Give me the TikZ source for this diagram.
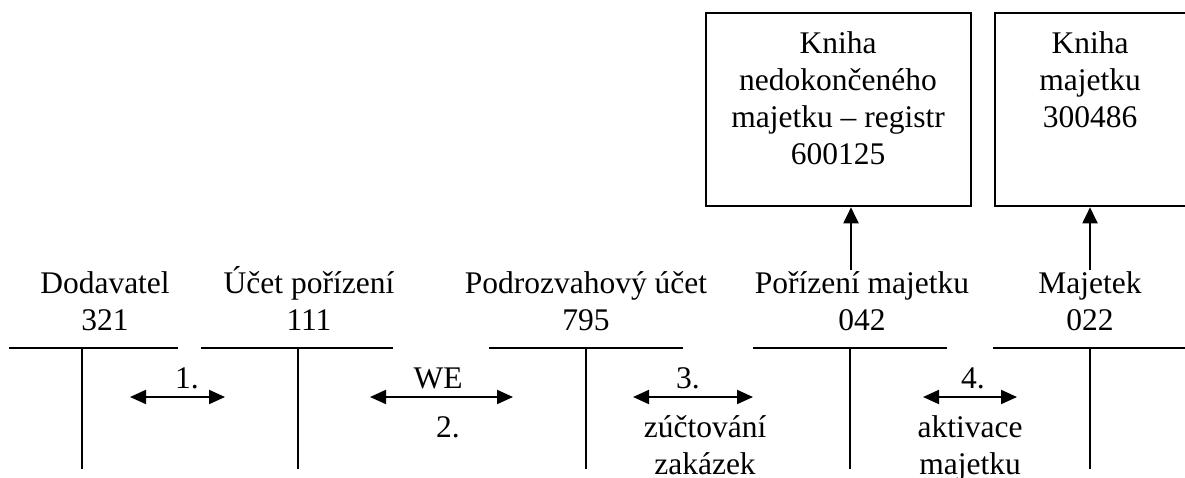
\documentclass[tikz,border=0pt]{standalone}
\usepackage{fontspec}
\setmainfont{Liberation Serif}
\usetikzlibrary{arrows.meta}
\begin{document}
\begin{tikzpicture}[x=1pt,y=-1pt,
  txt/.style={font=\fontsize{31.5}{37}\selectfont, align=center, inner sep=0pt, anchor=base},
  rule/.style={line width=2.3pt},
  link/.style={line width=2pt, -{Triangle[length=16pt,width=15pt]}},
  pair/.style={line width=2pt, {Triangle[length=16pt,width=14pt]}-{Triangle[length=16pt,width=14pt]}},
  book/.style={draw, line width=2.3pt, inner sep=0pt, anchor=north west}]
\useasboundingbox (0,0) rectangle (1185,477);
\clip (0,0) rectangle (1185,477);

% account titles (anchor at the baseline of the last line)
\node[txt] (t1) at (105,330) {Dodavatel\\321};
\node[txt] (t2) at (309,330) {Účet pořízení\\111};
\node[txt] (t3) at (586,330) {Podrozvahový účet\\795};
\node[txt] (t4) at (862,330) {Pořízení majetku\\042};
\node[txt] (t5) at (1090,330) {Majetek\\022};

% T-accounts
\coordinate (h1a) at (9,348);   \coordinate (h1b) at (178,348);
\coordinate (h2a) at (201,348); \coordinate (h2b) at (393,348);
\coordinate (h3a) at (489,348); \coordinate (h3b) at (683,348);
\coordinate (h4a) at (753,348); \coordinate (h4b) at (947,348);
\coordinate (h5a) at (993,348); \coordinate (h5b) at (1186,348);
\draw[rule] (h1a) -- (h1b) (82,348) -- (82,469);
\draw[rule] (h2a) -- (h2b) (298,348) -- (298,469);
\draw[rule] (h3a) -- (h3b) (586,348) -- (586,469);
\draw[rule] (h4a) -- (h4b) (850,348) -- (850,469);
\draw[rule] (h5a) -- (h5b) (1090,348) -- (1090,469);

% registers
\node[book, minimum width=265pt, minimum height=193pt] (b1) at (705,12) {};
\node[book, minimum width=191pt, minimum height=193pt] (b2) at (994,12) {};
\node[txt] (b1t) at (838,164) {Kniha\\nedokončeného\\majetku – registr\\600125};
\node[txt] (b2t) at (1090,127) {Kniha\\majetku\\300486};

% links to registers
\coordinate (u1) at (851,270);
\coordinate (u2) at (1090,270);
\draw[link] (u1) -- (b1.south -| u1);
\draw[link] (u2) -- (b2.south -| u2);

% postings
\coordinate (p1a) at (130,397); \coordinate (p1b) at (225,397);
\coordinate (p2a) at (370,397); \coordinate (p2b) at (513,397);
\coordinate (p3a) at (633,397); \coordinate (p3b) at (753,397);
\coordinate (p4a) at (923,397); \coordinate (p4b) at (1017,397);
\draw[pair] (p1a) -- (p1b);
\draw[pair] (p2a) -- (p2b);
\draw[pair] (p3a) -- (p3b);
\draw[pair] (p4a) -- (p4b);

\node[txt] (l1) at (187,388) {1.};
\node[txt] (l2a) at (438,388) {WE};
\node[txt] (l2b) at (448,437) {2.};
\node[txt] (l3a) at (688,388) {3.};
\node[txt] (l3b) at (705,474) {zúčtování\\zakázek};
\node[txt] (l4a) at (973,388) {4.};
\node[txt] (l4b) at (970,474) {aktivace\\majetku};
\end{tikzpicture}
\end{document}
